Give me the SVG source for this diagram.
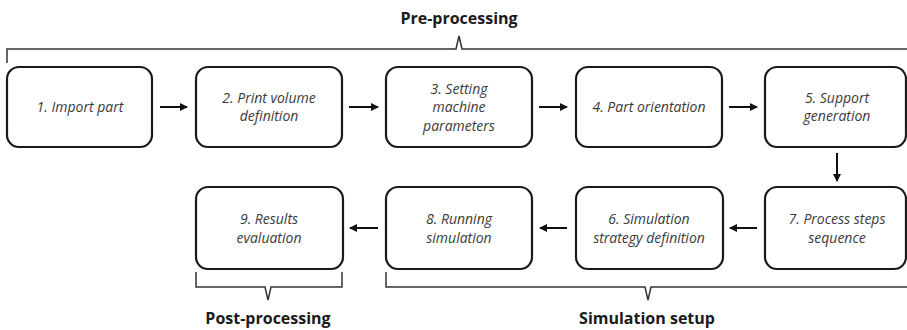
<svg xmlns="http://www.w3.org/2000/svg" width="907" height="330" viewBox="0 0 907 330">
<defs>
<marker id="ah" markerWidth="8" markerHeight="8" refX="7" refY="4" orient="auto" markerUnits="userSpaceOnUse">
<path d="M0,0 L8,4 L0,8 Z" fill="#111"/>
</marker>
<style>
.box{fill:#fff;stroke:#1a1a1a;stroke-width:2.2}
.lbl{font-family:"Open Sans","Liberation Sans",sans-serif;font-style:italic;font-size:14px;fill:#3a3a3a;text-anchor:middle}
.hdr{font-family:"Open Sans","Liberation Sans",sans-serif;font-weight:bold;font-size:16px;fill:#1a1a1a;text-anchor:middle}
.con{stroke:#111;stroke-width:2;fill:none}
.brace{stroke:#333;stroke-width:1.5;fill:none}
</style>
</defs>
<rect width="907" height="330" fill="#fff"/>
<g id="braces">
<path class="brace" d="M7,63 V49 H456 L459,36 L462,49 H907"/>
<path class="brace" d="M196,272 V287 H265 L268,300 L271,287 H342 V272"/>
<path class="brace" d="M386,272 V287 H645 L648,300 L651,287 H907"/>
<text class="hdr" x="459" y="24">Pre-processing</text>
<text class="hdr" x="268" y="324">Post-processing</text>
<text class="hdr" x="647" y="324">Simulation setup</text>
</g>
<g id="connectors">
<line class="con" x1="160" y1="107" x2="187" y2="107" marker-end="url(#ah)"/>
<line class="con" x1="349" y1="107" x2="378" y2="107" marker-end="url(#ah)"/>
<line class="con" x1="539" y1="107" x2="567" y2="107" marker-end="url(#ah)"/>
<line class="con" x1="729" y1="107" x2="757" y2="107" marker-end="url(#ah)"/>
<line class="con" x1="837" y1="153" x2="837" y2="181" marker-end="url(#ah)"/>
<line class="con" x1="757" y1="228" x2="730" y2="228" marker-end="url(#ah)"/>
<line class="con" x1="567" y1="228" x2="540" y2="228" marker-end="url(#ah)"/>
<line class="con" x1="378" y1="228" x2="350" y2="228" marker-end="url(#ah)"/>
</g>
<g id="n1"><rect class="box" x="7" y="67" width="145" height="80" rx="12"/><text class="lbl" x="80" y="112">1. Import part</text></g>
<g id="n2"><rect class="box" x="196" y="67" width="146" height="80" rx="12"/><text class="lbl" x="269" y="103">2. Print volume</text><text class="lbl" x="269" y="121">definition</text></g>
<g id="n3"><rect class="box" x="386" y="67" width="146" height="80" rx="12"/><text class="lbl" x="459" y="94">3. Setting</text><text class="lbl" x="459" y="112">machine</text><text class="lbl" x="459" y="131">parameters</text></g>
<g id="n4"><rect class="box" x="576" y="67" width="146" height="80" rx="12"/><text class="lbl" x="649" y="112">4. Part orientation</text></g>
<g id="n5"><rect class="box" x="765" y="67" width="141" height="80" rx="12"/><text class="lbl" x="837" y="103">5. Support</text><text class="lbl" x="837" y="121">generation</text></g>
<g id="n7"><rect class="box" x="765" y="187" width="141" height="82" rx="12"/><text class="lbl" x="837" y="224">7. Process steps</text><text class="lbl" x="837" y="243">sequence</text></g>
<g id="n6"><rect class="box" x="576" y="187" width="147" height="82" rx="12"/><text class="lbl" x="649" y="224">6. Simulation</text><text class="lbl" x="649" y="243">strategy definition</text></g>
<g id="n8"><rect class="box" x="386" y="187" width="146" height="82" rx="12"/><text class="lbl" x="459" y="224">8. Running</text><text class="lbl" x="459" y="243">simulation</text></g>
<g id="n9"><rect class="box" x="196" y="187" width="147" height="82" rx="12"/><text class="lbl" x="269" y="224">9. Results</text><text class="lbl" x="269" y="243">evaluation</text></g>
</svg>
